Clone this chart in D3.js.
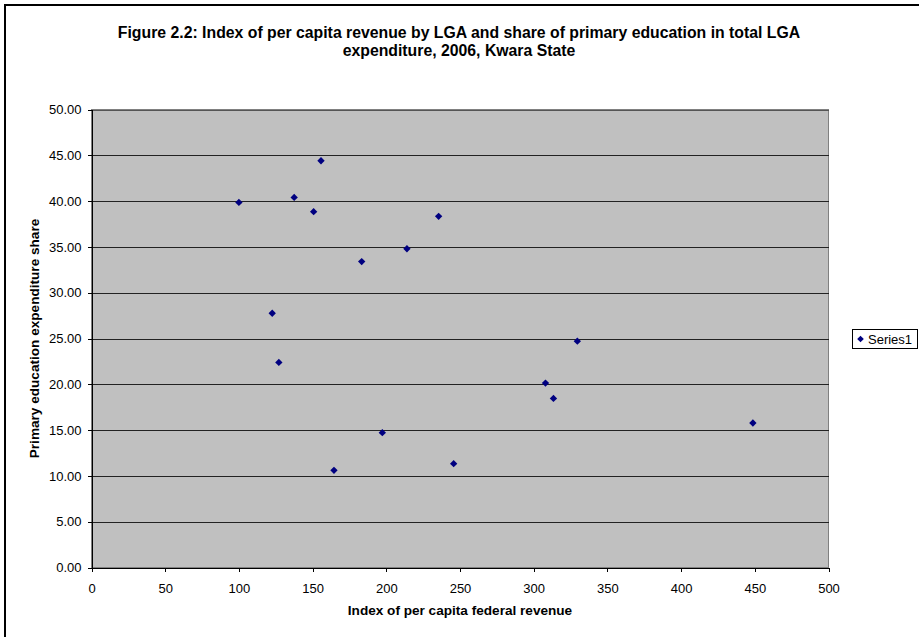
<!DOCTYPE html>
<html>
<head>
<meta charset="utf-8">
<script src="https://cdn.jsdelivr.net/npm/d3@7"></script>
<style>
  html, body { margin: 0; padding: 0; background: #fff; overflow: hidden; }
  svg { display: block; font-family: "Liberation Sans", Arial, sans-serif; }
</style>
</head>
<body>
<svg id="chart" width="919" height="637"></svg>
<script>
// Per capita federal revenue index by LGA (x) and primary education share of LGA spending (y)
const revenueIndex = [100.0, 122.6, 127.1, 137.5, 150.7, 155.7, 164.5, 183.3, 197.3, 214.0, 235.5, 245.7, 308.0, 313.4, 329.6, 448.7];
const primaryShare = [39.86, 27.76, 22.39, 40.40, 38.85, 44.40, 10.61, 33.40, 14.72, 34.80, 38.34, 11.34, 20.13, 18.46, 24.71, 15.77];
const xTicks = [0, 50, 100, 150, 200, 250, 300, 350, 400, 450, 500];
const yTicks = [0, 5, 10, 15, 20, 25, 30, 35, 40, 45, 50];
const titleLines = [
  "Figure 2.2: Index of per capita revenue by LGA and share of primary education in total LGA",
  "expenditure, 2006, Kwara State"
];
const xTitle = "Index of per capita federal revenue";
const yTitle = "Primary education expenditure share";
const seriesName = "Series1";

const points = revenueIndex.map((x, i) => ({ x, y: primaryShare[i] }));

const svg = d3.select("#chart");
const plot = { left: 91.5, right: 828.5, top: 109.5, bottom: 567.5 };

// chart frame (runs off the right and bottom edges)
svg.append("rect")
  .attr("x", 5).attr("y", 5)
  .attr("width", 960).attr("height", 680)
  .attr("fill", "#fff").attr("stroke", "#000").attr("stroke-width", 2);

const x = d3.scaleLinear().domain([0, 500]).range([plot.left, plot.right]);
const y = d3.scaleLinear().domain([0, 50]).range([plot.bottom, plot.top]);

// plot area
svg.append("rect")
  .attr("x", plot.left).attr("y", plot.top)
  .attr("width", plot.right - plot.left).attr("height", plot.bottom - plot.top)
  .attr("fill", "#c0c0c0").attr("stroke", "#808080").attr("stroke-width", 1)
  .attr("shape-rendering", "crispEdges");

// horizontal gridlines
svg.append("g")
  .selectAll("line")
  .data(yTicks.filter(t => t > 0))
  .join("line")
  .attr("x1", plot.left).attr("x2", plot.right)
  .attr("y1", d => Math.round(y(d)) + 0.5).attr("y2", d => Math.round(y(d)) + 0.5)
  .attr("stroke", d => d === 50 ? "#555" : "#222").attr("stroke-width", 1)
  .attr("shape-rendering", "crispEdges");

// axes
const xAxis = svg.append("g")
  .attr("transform", `translate(0,${plot.bottom})`)
  .call(d3.axisBottom(x).tickValues(xTicks).tickFormat(d3.format("d")).tickSize(4).tickSizeOuter(0).tickPadding(12));
const yAxis = svg.append("g")
  .attr("transform", `translate(${plot.left},0)`)
  .call(d3.axisLeft(y).tickValues(yTicks).tickFormat(d3.format(".2f")).tickSize(4).tickSizeOuter(0).tickPadding(6));

[xAxis, yAxis].forEach(g => {
  g.select(".domain").attr("stroke", "#000").attr("shape-rendering", "crispEdges");
  g.selectAll(".tick line").attr("stroke", "#000").attr("shape-rendering", "crispEdges");
  g.selectAll(".tick text").attr("fill", "#000").attr("font-size", 13)
    .attr("font-family", "'Liberation Sans', Arial, sans-serif");
});

// markers
const diamond = d3.symbol().type(d3.symbolSquare).size(27);
svg.append("g")
  .selectAll("path")
  .data(points)
  .join("path")
  .attr("d", diamond)
  .attr("transform", d => `translate(${x(d.x)},${y(d.y)}) rotate(45)`)
  .attr("fill", "#000080");

// title
svg.append("text")
  .attr("text-anchor", "middle").attr("font-weight", "bold").attr("font-size", 15.8)
  .selectAll("tspan")
  .data(titleLines)
  .join("tspan")
  .attr("x", 459)
  .attr("y", (d, i) => 37.5 + i * 18.5)
  .text(d => d);

// axis titles
svg.append("text")
  .attr("x", (plot.left + plot.right) / 2).attr("y", 615)
  .attr("text-anchor", "middle").attr("font-weight", "bold").attr("font-size", 13.6)
  .text(xTitle);
svg.append("text")
  .attr("transform", `translate(39,${(plot.top + plot.bottom) / 2}) rotate(-90)`)
  .attr("text-anchor", "middle").attr("font-weight", "bold").attr("font-size", 13.6)
  .text(yTitle);

// legend
const legend = svg.append("g");
legend.append("rect")
  .attr("x", 852.5).attr("y", 329.5).attr("width", 65).attr("height", 19)
  .attr("fill", "#fff").attr("stroke", "#000").attr("stroke-width", 1);
legend.append("path")
  .attr("d", d3.symbol().type(d3.symbolSquare).size(22))
  .attr("transform", "translate(860.5,339) rotate(45)")
  .attr("fill", "#000080");
legend.append("text")
  .attr("x", 868).attr("y", 343.5).attr("font-size", 13)
  .text(seriesName);
</script>
</body>
</html>
